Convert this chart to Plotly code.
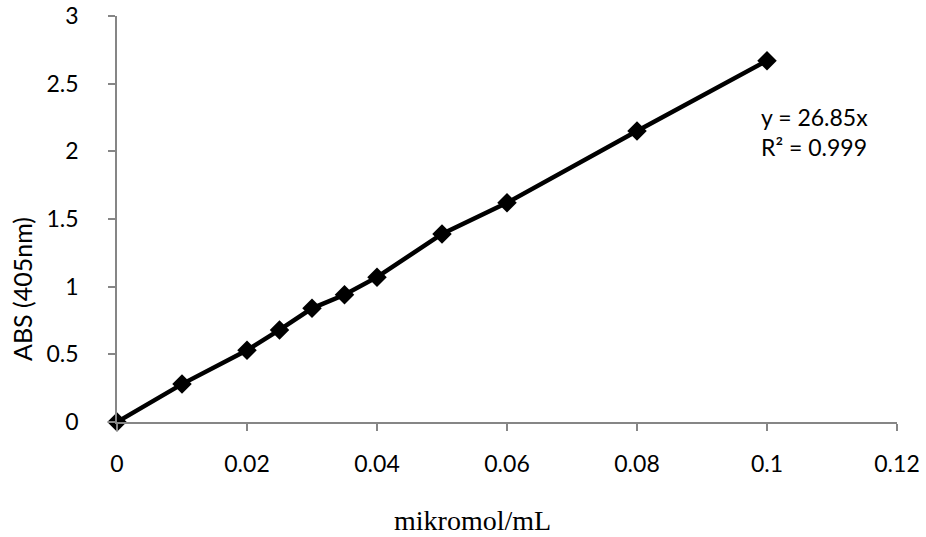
import plotly.graph_objects as go

conc = [0, 0.01, 0.02, 0.025, 0.03, 0.035, 0.04, 0.05, 0.06, 0.08, 0.1]
absorb = [0, 0.28, 0.53, 0.68, 0.84, 0.94, 1.07, 1.39, 1.62, 2.15, 2.67]
x_ticks = [0, 0.02, 0.04, 0.06, 0.08, 0.1, 0.12]
x_tick_labels = ["0", "0.02", "0.04", "0.06", "0.08", "0.1", "0.12"]
y_ticks = [0, 0.5, 1, 1.5, 2, 2.5, 3]
y_tick_labels = ["0", "0.5", "1", "1.5", "2", "2.5", "3"]
eq_text = "y = 26.85x<br>R² = 0.999"

AX = "#868686"
FONT = "Lato"

fig = go.Figure()
fig.add_trace(go.Scatter(
    x=conc, y=absorb, mode="lines+markers",
    line=dict(color="black", width=4.5),
    marker=dict(symbol="diamond", size=15, color="black"),
    cliponaxis=False, showlegend=False,
))

fig.update_layout(
    width=926, height=537,
    margin=dict(l=117, r=29, t=16, b=115),
    paper_bgcolor="white", plot_bgcolor="white",
    font=dict(family=FONT, size=23, color="black"),
    xaxis=dict(
        range=[0, 0.12], tickvals=x_ticks, ticktext=x_tick_labels, automargin=False,
        showgrid=False, zeroline=False, showline=True, linecolor=AX, linewidth=1.5,
        ticks="outside", ticklen=7, tickcolor=AX, tickwidth=1.5,
        ticklabelstandoff=14, tickfont=dict(family=FONT, size=23),
    ),
    yaxis=dict(
        range=[0, 3], tickvals=y_ticks, ticktext=y_tick_labels, automargin=False,
        showgrid=False, zeroline=False, showline=True, linecolor=AX, linewidth=1.5,
        ticks="outside", ticklen=7, tickcolor=AX, tickwidth=1.5,
        ticklabelstandoff=25, tickfont=dict(family=FONT, size=23),
    ),
    annotations=[
        dict(text="ABS (405nm)", xref="paper", yref="paper", x=(22 - 117) / 780, y=0.3276,
             textangle=-90, showarrow=False, xanchor="center", yanchor="middle",
             font=dict(family=FONT, size=25)),
        dict(text="mikromol/mL", xref="paper", yref="paper", x=(472 - 117) / 780,
             y=-(520 - 422) / 406, showarrow=False, xanchor="center", yanchor="middle",
             font=dict(family="Liberation Serif", size=28)),
        dict(text=eq_text, xref="paper", yref="paper", x=(759 - 117) / 780,
             y=(422 - 132) / 406, showarrow=False, xanchor="left", yanchor="middle",
             align="left", font=dict(family=FONT, size=23)),
    ],
)

fig.write_html("out.html")
